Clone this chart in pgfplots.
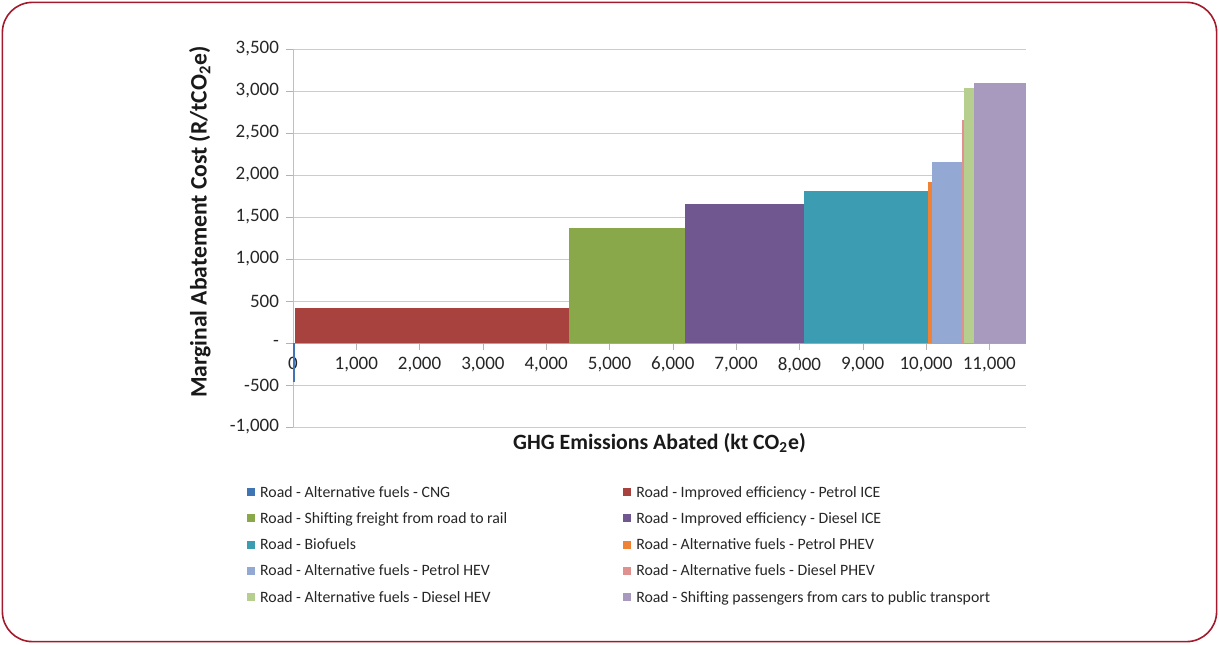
\documentclass[border=0pt]{standalone}
\usepackage{pgfplots}
\pgfplotsset{compat=1.18}
\usepackage{fontspec}
\setmainfont{Carlito}

\definecolor{framered}{HTML}{A31A2C}
\definecolor{cCNG}{HTML}{3F74B5}
\definecolor{cPICE}{HTML}{A8423F}
\definecolor{cFrt}{HTML}{88A84A}
\definecolor{cDICE}{HTML}{715790}
\definecolor{cBio}{HTML}{3B9CB2}
\definecolor{cPPHEV}{HTML}{F08236}
\definecolor{cPHEV}{HTML}{93A9D4}
\definecolor{cDPHEV}{HTML}{E0908E}
\definecolor{cDHEV}{HTML}{B6CF8E}
\definecolor{cPass}{HTML}{A89ABF}

\begin{document}
\begin{tikzpicture}[x=1pt,y=1pt]
\draw[framered, line width=0.8pt, rounded corners=15pt] (1.2,1.2) rectangle (608.3,320.8);
\useasboundingbox (0,0) rectangle (609.5,322);
\begin{axis}[
    at={(146.5pt,108.5pt)}, anchor=south west,
    scale only axis, width=366.5pt, height=189pt,
    xmin=0, xmax=11580, ymin=-1000, ymax=3500,
    enlargelimits=false,
    axis x line*=middle, axis y line*=left,
    hide obscured x ticks=false, hide obscured y ticks=false,
    scaled x ticks=false, scaled y ticks=false,
    x axis line style={black!35}, y axis line style={black!25},
    xtick={0,1000,...,11000},
    xticklabels={0,{1,000},{2,000},{3,000},{4,000},{5,000},{6,000},{7,000},{8,000},{9,000},{10,000},{11,000}},
    ytick={-1000,-500,...,3500},
    yticklabels={{-1,000},{-500},{-},{500},{1,000},{1,500},{2,000},{2,500},{3,000},{3,500}},
    tick align=outside, major tick length=3.5pt,
    tick style={black!30},
    tick label style={font=\fontsize{9.5}{11}\selectfont, text=black!85},
    ymajorgrids, grid style={black!20},
    xlabel={\textbf{GHG Emissions Abated (kt CO\textsubscript{2}e)}},
    ylabel={\textbf{Marginal Abatement Cost (R/tCO\textsubscript{2}e)}},
    xlabel style={font=\fontsize{10.9}{12}\selectfont, text=black!90,
        at={(axis description cs:0.5,0)}, anchor=north, yshift=0.5pt},
    ylabel style={font=\fontsize{11.8}{13}\selectfont, text=black!90,
        at={(axis description cs:-0.127,0.542)}, anchor=center},
    legend cell align=left,
    legend columns=2,
    legend image code/.code={\fill[#1] (0pt,-1.5pt) rectangle (4pt,2.5pt);},
    legend style={at={(axis description cs:-0.063,-0.155)}, anchor=north west,
        draw=none, fill=none, inner sep=0pt,
        font=\fontsize{7.9}{9}\selectfont, text=black!85,
        nodes={inner sep=0pt, text height=5.5pt, text depth=1.5pt},
        row sep=6.15pt,
        /tikz/every odd column/.append style={column sep=2.5pt},
        /tikz/every even column/.append style={column sep=58pt}},
]
\addplot[fill=cCNG, draw=none] coordinates {(0,-470) (30,-470)} \closedcycle;
\addlegendentry{Road - Alternative fuels - CNG}
\addplot[fill=cPICE, draw=none] coordinates {(30,420) (4353,420)} \closedcycle;
\addlegendentry{Road - Improved efficiency - Petrol ICE}
\addplot[fill=cFrt, draw=none] coordinates {(4353,1370) (6199,1370)} \closedcycle;
\addlegendentry{Road - Shifting freight from road to rail}
\addplot[fill=cDICE, draw=none] coordinates {(6199,1655) (8076,1655)} \closedcycle;
\addlegendentry{Road - Improved efficiency - Diesel ICE}
\addplot[fill=cBio, draw=none] coordinates {(8076,1810) (10032,1810)} \closedcycle;
\addlegendentry{Road - Biofuels}
\addplot[fill=cPPHEV, draw=none] coordinates {(10032,1920) (10095,1920)} \closedcycle;
\addlegendentry{Road - Alternative fuels - Petrol PHEV}
\addplot[fill=cPHEV, draw=none] coordinates {(10095,2150) (10568,2150)} \closedcycle;
\addlegendentry{Road - Alternative fuels - Petrol HEV}
\addplot[fill=cDPHEV, draw=none] coordinates {(10568,2650) (10600,2650)} \closedcycle;
\addlegendentry{Road - Alternative fuels - Diesel PHEV}
\addplot[fill=cDHEV, draw=none] coordinates {(10600,3040) (10757,3040)} \closedcycle;
\addlegendentry{Road - Alternative fuels - Diesel HEV}
\addplot[fill=cPass, draw=none] coordinates {(10757,3100) (11577,3100)} \closedcycle;
\addlegendentry{Road - Shifting passengers from cars to public transport}
\end{axis}
\end{tikzpicture}
\end{document}
